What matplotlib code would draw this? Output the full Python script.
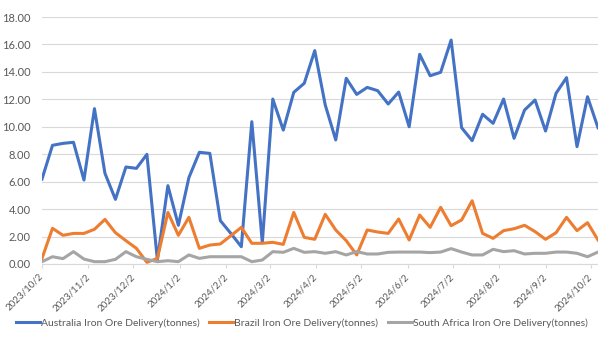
import numpy as np
import pandas as pd
import matplotlib
matplotlib.use("Agg")
import matplotlib.pyplot as plt

plt.rcParams['font.family'] = ['Lato', 'DejaVu Sans']

# weekly dates
dates = pd.date_range("2023-10-02", periods=54, freq="7D")

australia = [6.19, 8.65, 8.79, 8.87, 6.12, 11.32, 6.61, 4.71, 7.07, 6.97,
             7.99, 0.29, 5.71, 2.82, 6.29, 8.14, 8.06, 3.16, 2.23, 1.26,
             10.37, 1.55, 12.02, 9.76, 12.51, 13.17, 15.55, 11.59, 9.04, 13.53,
             12.36, 12.87, 12.63, 11.66, 12.53, 10.0, 15.28, 13.72, 13.97, 16.32,
             9.93, 8.99, 10.91, 10.25, 12.02, 9.16, 11.22, 11.95, 9.69, 12.44,
             13.58, 8.55, 12.19, 9.93]
brazil = [0.41, 2.60, 2.09, 2.23, 2.23, 2.53, 3.25, 2.28, 1.70, 1.14,
          0.12, 0.41, 3.76, 2.09, 3.40, 1.14, 1.38, 1.46, 2.06, 2.67,
          1.51, 1.51, 1.58, 1.43, 3.76, 1.94, 1.80, 3.62, 2.48, 1.70,
          0.66, 2.48, 2.33, 2.23, 3.28, 1.75, 3.57, 2.67, 4.13, 2.79,
          3.21, 4.61, 2.23, 1.87, 2.43, 2.57, 2.82, 2.36, 1.80, 2.28,
          3.40, 2.43, 3.01, 1.75]
south_africa = [0.17, 0.53, 0.39, 0.90, 0.36, 0.17, 0.17, 0.34, 0.90, 0.53,
                0.34, 0.17, 0.24, 0.17, 0.66, 0.41, 0.53, 0.53, 0.53, 0.53,
                0.17, 0.29, 0.90, 0.85, 1.14, 0.85, 0.90, 0.78, 0.90, 0.66,
                0.90, 0.73, 0.73, 0.85, 0.87, 0.87, 0.87, 0.83, 0.87, 1.12,
                0.87, 0.66, 0.66, 1.07, 0.90, 0.97, 0.73, 0.78, 0.78, 0.87,
                0.87, 0.78, 0.53, 0.87]

labels = ["Australia Iron Ore Delivery(tonnes)",
          "Brazil Iron Ore Delivery(tonnes)",
          "South Africa Iron Ore Delivery(tonnes)"]
colors = ["#4472C4", "#ED7D31", "#A5A5A5"]

# month ticks, 2nd of each month
tick_dates = pd.to_datetime(["2023-10-02", "2023-11-02", "2023-12-02", "2024-01-02",
                             "2024-02-02", "2024-03-02", "2024-04-02", "2024-05-02",
                             "2024-06-02", "2024-07-02", "2024-08-02", "2024-09-02",
                             "2024-10-02"])

fig = plt.figure(figsize=(5.98, 3.54), dpi=100)
ax = fig.add_axes([42 / 598, (354 - 264) / 354, (598 - 42) / 598, (264 - 17) / 354])

for series, lab, col in zip([australia, brazil, south_africa], labels, colors):
    ax.plot(dates, series, color=col, lw=2.2, label=lab, solid_joinstyle="round")

ax.set_ylim(0, 18)
ax.set_yticks(np.arange(0, 18.01, 2))
ax.set_yticklabels([f"{v:.2f}" for v in np.arange(0, 18.01, 2)])
ax.set_xlim(dates[0], dates[-1])

ax.set_xticks(tick_dates)
ax.set_xticklabels([f"{d.year}/{d.month}/{d.day}" for d in tick_dates], rotation=45,
                   ha="right", va="center", rotation_mode="anchor")

ax.grid(axis="y", color="#D9D9D9", lw=0.8)
ax.set_axisbelow(True)
for s in ["top", "right", "left"]:
    ax.spines[s].set_visible(False)
ax.spines["bottom"].set_color("#D9D9D9")
ax.tick_params(axis="y", length=0, labelsize=8, colors="#595959", pad=8)
ax.tick_params(axis="x", length=3, color="#D9D9D9", labelsize=7, labelcolor="#595959", pad=5)

fig.legend(loc="center", bbox_to_anchor=(0.505, (354 - 323) / 354), ncol=3, frameon=False,
           fontsize=7.5, labelcolor="#595959", handlelength=2.3, handletextpad=0.1,
           columnspacing=0.9)

fig.savefig("out.png", dpi=100)
